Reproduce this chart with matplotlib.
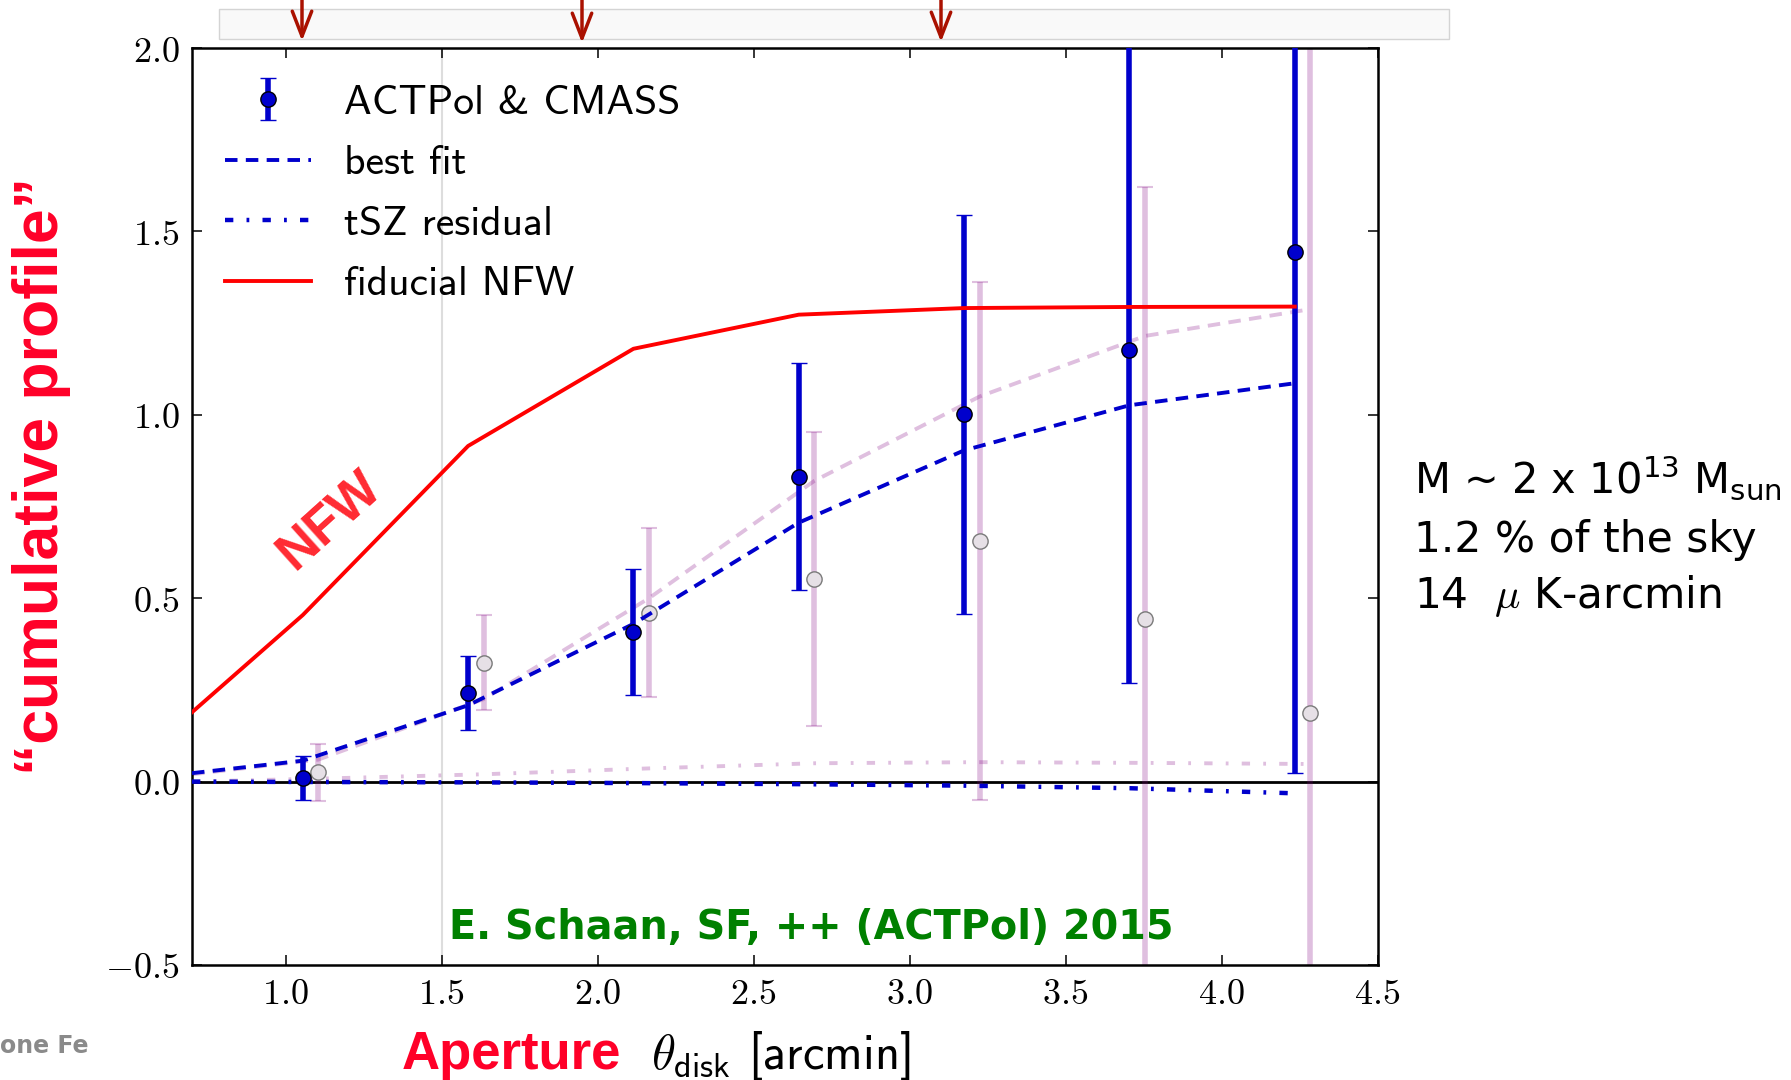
import matplotlib
matplotlib.use("Agg")
import matplotlib.pyplot as plt
from matplotlib.patches import Rectangle, FancyArrowPatch
from matplotlib.ticker import FuncFormatter

plt.rcParams["mathtext.fontset"] = "cm"
plt.rcParams["mathtext.rm"] = "DejaVu Sans"
plt.rcParams["mathtext.it"] = "DejaVu Sans:italic"
plt.rcParams["mathtext.bf"] = "DejaVu Sans:bold"
plt.rcParams["lines.scale_dashes"] = False

# ---- measured cumulative profile (ACTPol x CMASS) ----
theta = [1.055, 1.585, 2.115, 2.645, 3.175, 3.705, 4.235]
signal = [0.009, 0.242, 0.408, 0.831, 1.001, 1.178, 1.444]
signal_err = [0.060, 0.100, 0.172, 0.310, 0.544, 0.909, 1.420]

# ---- alternative (faded) measurement, slightly offset in aperture ----
theta_alt = [1.105, 1.635, 2.165, 2.695, 3.225, 3.755, 4.285]
signal_alt = [0.025, 0.324, 0.461, 0.552, 0.656, 0.442, 0.187]
signal_alt_err = [0.077, 0.130, 0.230, 0.400, 0.707, 1.180, 2.200]

# ---- model curves ----
theta_curve = [0.7, 1.055, 1.585, 2.115, 2.645, 3.175, 3.705, 4.235]
best_fit = [0.023, 0.057, 0.208, 0.430, 0.706, 0.903, 1.026, 1.086]
tsz_resid = [0.0, -0.001, -0.002, -0.004, -0.007, -0.011, -0.018, -0.032]
nfw = [0.189, 0.454, 0.915, 1.180, 1.273, 1.291, 1.294, 1.295]

theta_curve_alt = [0.7, 1.105, 1.635, 2.165, 2.695, 3.225, 3.755, 4.285]
best_fit_alt = [0.020, 0.060, 0.225, 0.500, 0.820, 1.050, 1.215, 1.288]
tsz_resid_alt = [0.0, 0.008, 0.020, 0.036, 0.050, 0.053, 0.051, 0.048]

x_ticks = [1.0, 1.5, 2.0, 2.5, 3.0, 3.5, 4.0, 4.5]
y_ticks = [-0.5, 0.0, 0.5, 1.0, 1.5, 2.0]

W, H = 1791, 1080
fig = plt.figure(figsize=(W / 100, H / 100), dpi=100)


def fx(px):
    return px / W


def fy(py):
    return 1 - py / H


ax = fig.add_axes([fx(192), fy(965), fx(1377.5) - fx(192), fy(48) - fy(965)])

blue = "#0000cc"
dash = (0, (9, 6))
dashdot = (0, (6, 9.5, 2, 9.5))

ax.axvline(1.5, color="#dddddd", lw=1.5, zorder=0.5)
ax.axhline(0.0, color="black", lw=2.0, zorder=1)

# faded series
ax.plot(theta_curve_alt, best_fit_alt, color="purple", alpha=0.25, lw=2.8,
        linestyle=dash, zorder=2)
ax.plot(theta_curve_alt, tsz_resid_alt, color="purple", alpha=0.25, lw=2.8,
        linestyle=dashdot, zorder=2)
ax.errorbar(theta_alt, signal_alt, yerr=signal_alt_err, fmt="none",
            ecolor="purple", alpha=0.25, elinewidth=4, capsize=6,
            capthick=1.5, zorder=2)
ax.plot(theta_alt, signal_alt, "o", ms=11, mfc="#e6e0e6", mec="#7a7a7a",
        mew=1.0, zorder=2.5)

# main series
fit_line, = ax.plot(theta_curve, best_fit, color=blue, lw=2.8, linestyle=dash,
                    zorder=3, label="best fit")
tsz_line, = ax.plot(theta_curve, tsz_resid, color=blue, lw=3.2,
                    linestyle=dashdot, zorder=3, label="tSZ residual")
data = ax.errorbar(theta, signal, yerr=signal_err, fmt="o", color=blue,
                   ms=11, mfc=blue, mec="black", mew=1.0, elinewidth=4,
                   capsize=6, capthick=1.5, zorder=4, label="ACTPol & CMASS")
nfw_line, = ax.plot(theta_curve, nfw, color="red", lw=2.8, zorder=5,
                    label="fiducial NFW")

ax.set_xlim(0.7, 4.5)
ax.set_ylim(-0.5, 2.0)
ax.set_xticks(x_ticks)
ax.set_yticks(y_ticks)
fmt = FuncFormatter(lambda v, p: r"$%.1f$" % v)
ax.xaxis.set_major_formatter(fmt)
ax.yaxis.set_major_formatter(fmt)
ax.tick_params(direction="in", top=True, right=True, length=7, width=1.1,
               labelsize=26, pad=9)
for s in ax.spines.values():
    s.set_linewidth(1.8)

leg = ax.legend(handles=[data, fit_line, tsz_line, nfw_line],
                loc="upper left", bbox_to_anchor=(0.028, 0.960),
                frameon=False, numpoints=1, handlelength=2.05,
                handletextpad=0.8, labelspacing=0.56, borderpad=0,
                borderaxespad=0, prop={"family": "cmss10", "size": 30})

# annotations inside the axes
fig.text(fx(330), fy(520), "NFW", rotation=42, color="#ff2a32",
         fontsize=38, fontweight="bold", family="Liberation Sans",
         ha="center", va="center")
fig.text(fx(811), fy(939), "E. Schaan, SF, ++ (ACTPol) 2015",
         color="#008000", fontsize=28.6, fontweight="bold",
         family="DejaVu Sans", ha="center", va="baseline")

# axis labels
fig.text(fx(42), fy(476), "\u201ccumulative profile\u201d", rotation=90,
         color="#ff0028", fontsize=45, fontweight="bold",
         family="Liberation Sans", ha="center", va="center")
fig.text(fx(402), fy(1069), "Aperture", color="#ff0028", fontsize=38,
         fontweight="bold", family="Liberation Sans", ha="left",
         va="baseline")
fig.text(fx(651), fy(1069), r"$\theta_{\mathsf{disk}}$ [arcmin]",
         fontsize=35, family="cmss10", math_fontfamily="cm", ha="left",
         va="baseline")

# sample summary
fig.text(fx(1414), fy(493), r"M ~ 2 x 10$^{13}$ M$_{\mathrm{sun}}$",
         fontsize=30, family="DejaVu Sans", math_fontfamily="custom",
         ha="left", va="baseline")
fig.text(fx(1414), fy(552), "1.2 % of the sky", fontsize=30.5,
         family="DejaVu Sans", ha="left", va="baseline")
fig.text(fx(1414), fy(608), r"14  $\mu$ K-arcmin", fontsize=30.5,
         family="DejaVu Sans", math_fontfamily="cm", ha="left",
         va="baseline")

fig.text(fx(0), fy(1053), "one Fe", color="#8a8a8a", fontsize=17,
         fontweight="bold", family="DejaVu Sans", ha="left", va="baseline")

# header strip with markers
fig.patches.append(Rectangle((fx(219), fy(39)), fx(1449) - fx(219),
                             fy(9) - fy(39), transform=fig.transFigure,
                             facecolor="#f9f9f9", edgecolor="#d4d4d4",
                             lw=1.0, zorder=0))
for px, tip in [(302, 41), (582, 43), (941, 42)]:
    fig.patches.append(FancyArrowPatch((fx(px), fy(-5)), (fx(px), fy(tip)),
                                       transform=fig.transFigure,
                                       arrowstyle="->,head_length=0.9,head_width=0.35",
                                       mutation_scale=20, color="#aa1100",
                                       lw=2.5, shrinkA=0, shrinkB=0,
                                       zorder=3))

fig.savefig("out.png", dpi=100)
